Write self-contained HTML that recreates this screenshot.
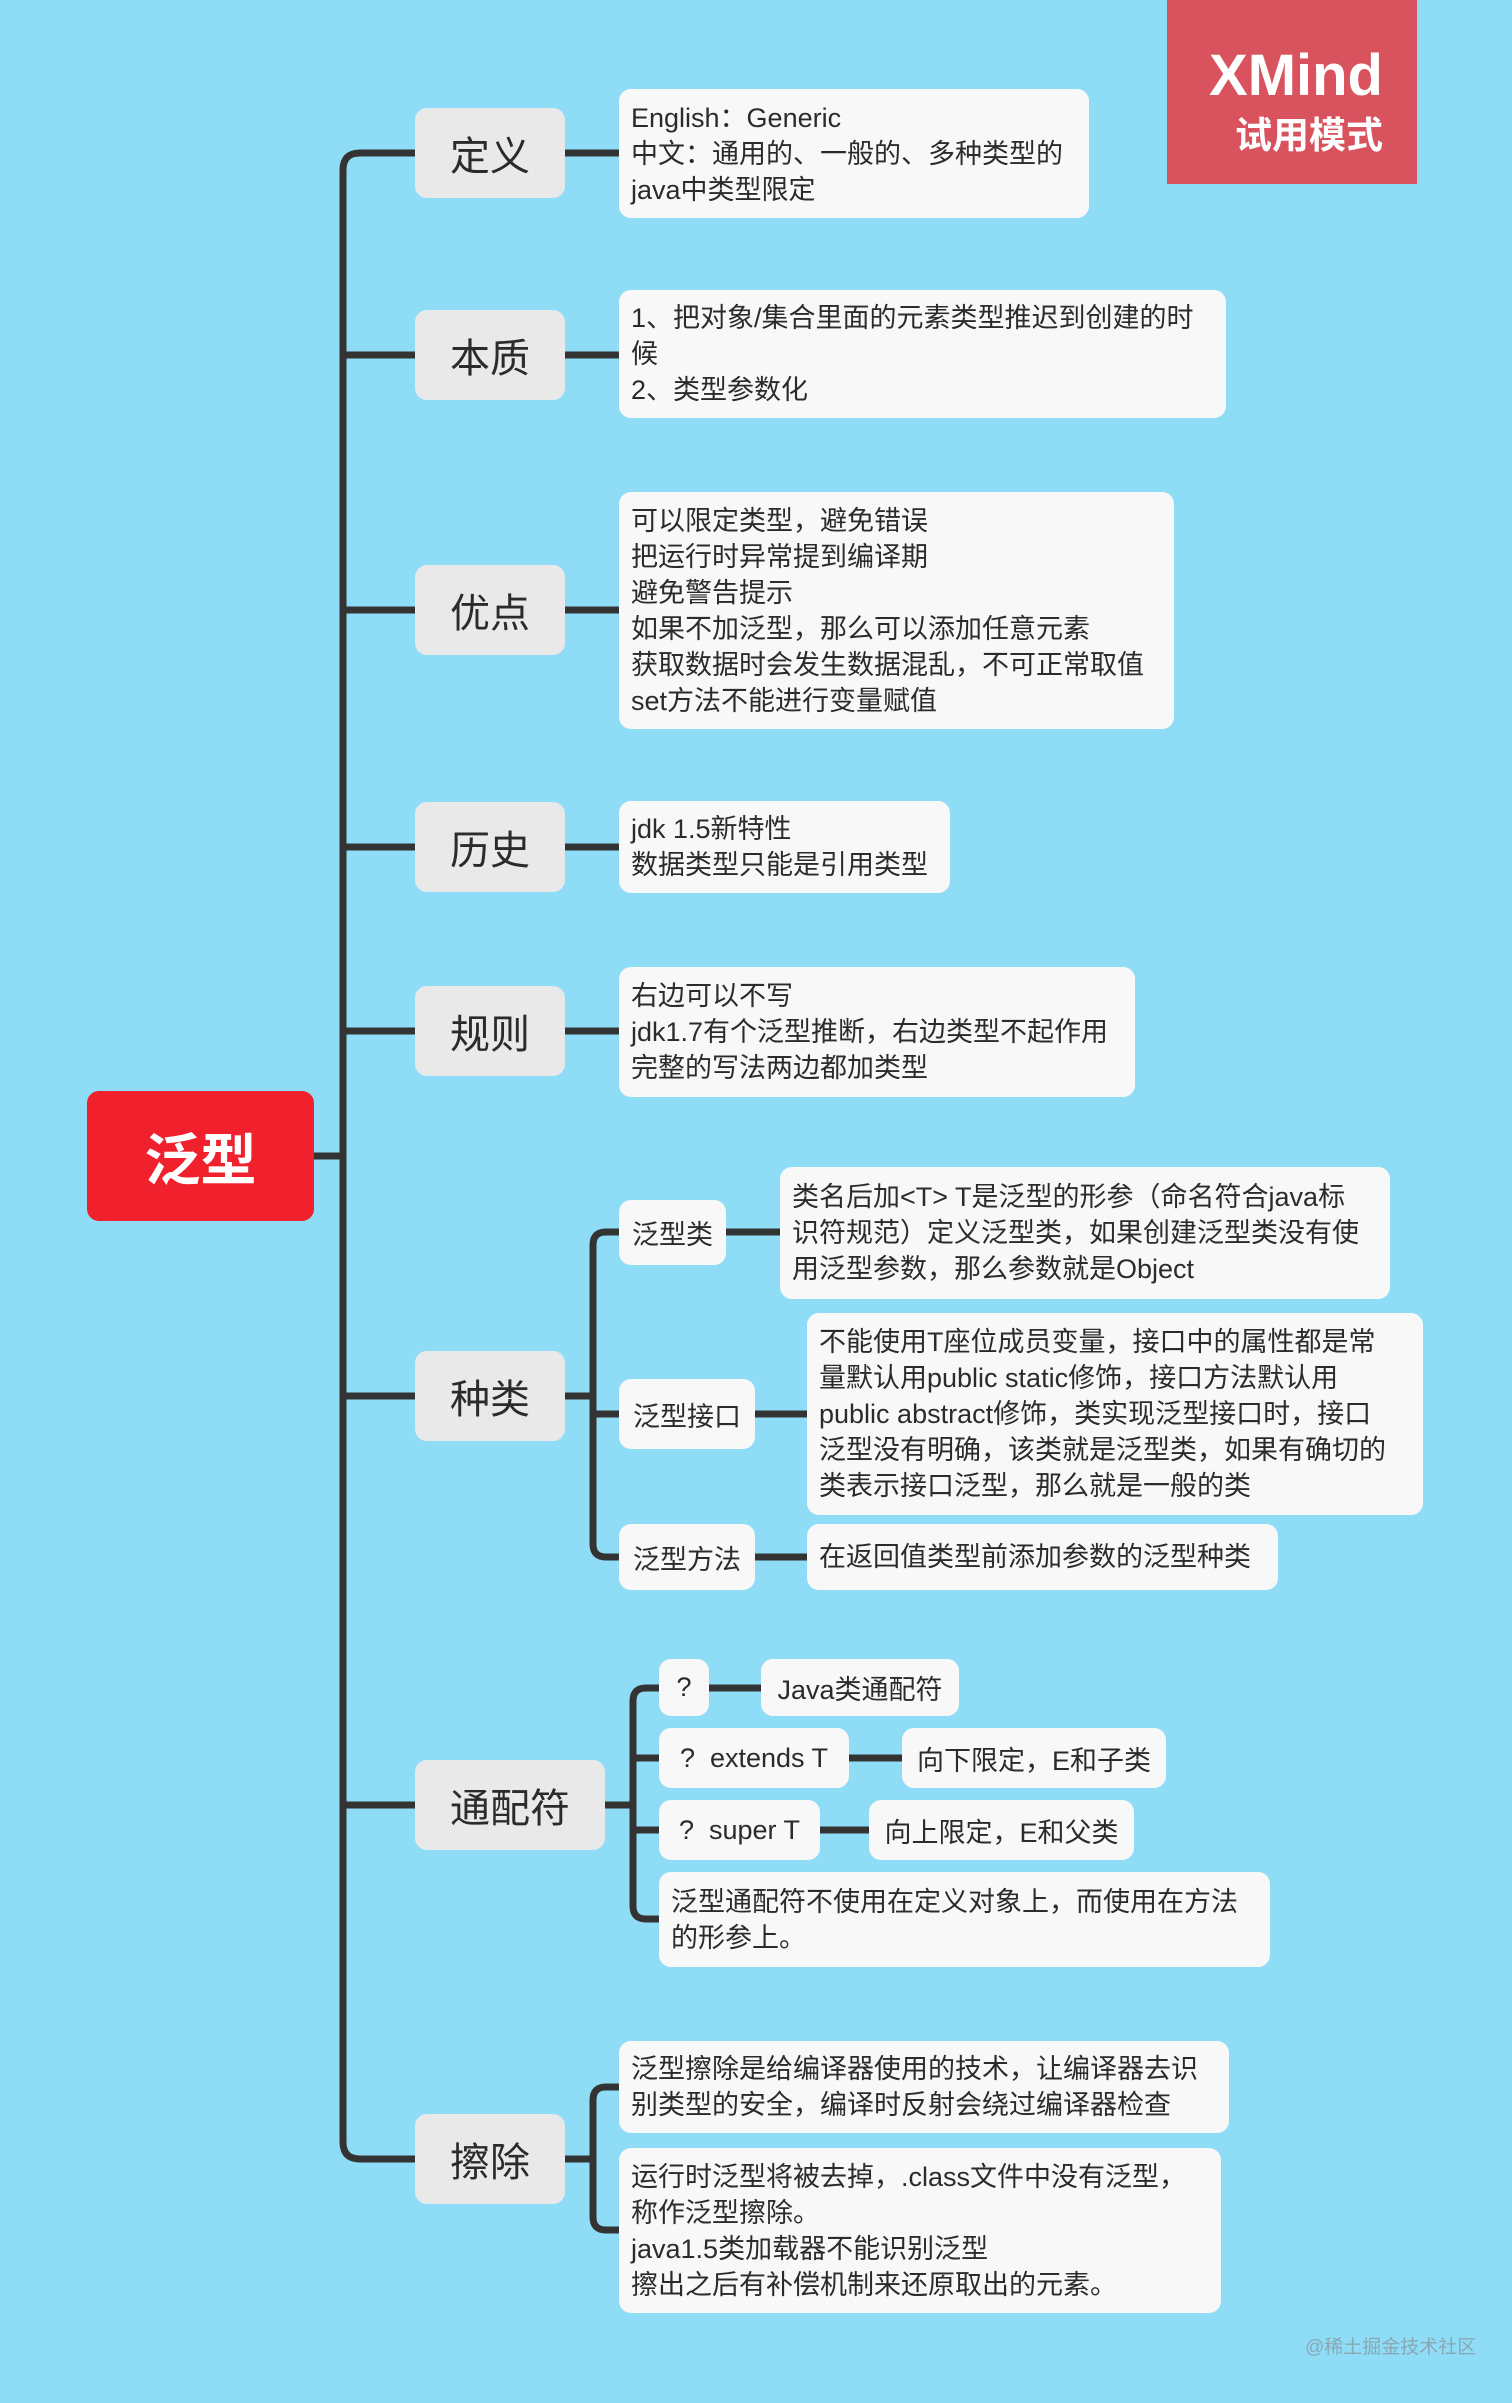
<!DOCTYPE html>
<html><head><meta charset="utf-8"><style>
*{margin:0;padding:0;box-sizing:border-box}
body{width:1512px;height:2403px;background:#8fdcf6;position:relative;overflow:hidden;font-family:"Liberation Sans","Noto Sans CJK SC",sans-serif;color:#2b2b2b}
.n{position:absolute;background:#e9e9e9;border-radius:12px;display:flex;align-items:center;justify-content:center;font-size:40px}
.b{position:absolute;background:#f8f8f8;border-radius:12px;font-size:27px;line-height:36px;padding:8px 12px;white-space:nowrap;display:flex;flex-direction:column;justify-content:center}
.s{position:absolute;background:#f8f8f8;border-radius:12px;font-size:27px;display:flex;align-items:center;justify-content:center;white-space:nowrap}
svg{position:absolute;left:0;top:0}
</style></head><body>
<svg width="1512" height="2403"><g stroke="#333" stroke-width="7" fill="none" stroke-linecap="round">
<path d="M314 1156 H343"/>
<path d="M415 153 H360 Q343 153 343 170 V2142 Q343 2159 360 2159 H415"/>
<path d="M343 355 H415 M343 610 H415 M343 847 H415 M343 1031 H415 M343 1396 H415 M343 1805 H415"/>
<path d="M565 153 H619 M565 355 H619 M565 610 H619 M565 847 H619 M565 1031 H619"/>
<path d="M565 1396 H593 M619 1232 H606 Q593 1232 593 1245 V1544 Q593 1557 606 1557 H619 M593 1414 H619"/>
<path d="M726 1232 H780 M755 1414 H807 M755 1557 H807"/>
<path d="M605 1805 H633 M659 1688 H646 Q633 1688 633 1701 V1906 Q633 1919 646 1919 H659 M633 1758 H659 M633 1830 H659"/>
<path d="M709 1688 H761 M849 1758 H902 M820 1830 H869"/>
<path d="M565 2159 H593 M619 2087 H606 Q593 2087 593 2100 V2217 Q593 2230 606 2230 H619"/>
</g></svg>
<div style="position:absolute;left:1167px;top:0;width:250px;height:184px;background:#d9535f;color:#fff;font-weight:bold;text-align:right;padding-right:34px">
<div style="font-size:58px;line-height:60px;margin-top:46px">XMind</div>
<div style="font-size:37px;line-height:44px;margin-top:8px">试用模式</div></div>
<div class="n" style="left:87px;top:1091px;width:227px;height:130px;background:#f0202c;color:#fff;font-weight:bold;font-size:56px">泛型</div>
<div class="n" style="left:415px;top:108px;width:150px;height:90px">定义</div>
<div class="n" style="left:415px;top:310px;width:150px;height:90px">本质</div>
<div class="n" style="left:415px;top:565px;width:150px;height:90px">优点</div>
<div class="n" style="left:415px;top:802px;width:150px;height:90px">历史</div>
<div class="n" style="left:415px;top:986px;width:150px;height:90px">规则</div>
<div class="n" style="left:415px;top:1351px;width:150px;height:90px">种类</div>
<div class="n" style="left:415px;top:1760px;width:190px;height:90px">通配符</div>
<div class="n" style="left:415px;top:2114px;width:150px;height:90px">擦除</div>
<div class="b" style="left:619px;top:89px;width:470px;height:129px">English：Generic<br>中文：通用的、一般的、多种类型的<br>java中类型限定</div>
<div class="b" style="left:619px;top:290px;width:607px;height:128px">1、把对象/集合里面的元素类型推迟到创建的时<br>候<br>2、类型参数化</div>
<div class="b" style="left:619px;top:492px;width:555px;height:237px">可以限定类型，避免错误<br>把运行时异常提到编译期<br>避免警告提示<br>如果不加泛型，那么可以添加任意元素<br>获取数据时会发生数据混乱，不可正常取值<br>set方法不能进行变量赋值</div>
<div class="b" style="left:619px;top:801px;width:331px;height:92px">jdk 1.5新特性<br>数据类型只能是引用类型</div>
<div class="b" style="left:619px;top:967px;width:516px;height:130px">右边可以不写<br>jdk1.7有个泛型推断，右边类型不起作用<br>完整的写法两边都加类型</div>
<div class="s" style="left:619px;top:1200px;width:107px;height:65px">泛型类</div>
<div class="b" style="left:780px;top:1167px;width:610px;height:132px">类名后加&lt;T&gt; T是泛型的形参（命名符合java标<br>识符规范）定义泛型类，如果创建泛型类没有使<br>用泛型参数，那么参数就是Object</div>
<div class="s" style="left:619px;top:1379px;width:136px;height:70px">泛型接口</div>
<div class="b" style="left:807px;top:1313px;width:616px;height:202px">不能使用T座位成员变量，接口中的属性都是常<br>量默认用public static修饰，接口方法默认用<br>public abstract修饰，类实现泛型接口时，接口<br>泛型没有明确，该类就是泛型类，如果有确切的<br>类表示接口泛型，那么就是一般的类</div>
<div class="s" style="left:619px;top:1524px;width:136px;height:66px">泛型方法</div>
<div class="b" style="left:807px;top:1524px;width:471px;height:66px">在返回值类型前添加参数的泛型种类</div>
<div class="s" style="left:659px;top:1659px;width:50px;height:57px">?</div>
<div class="s" style="left:761px;top:1659px;width:198px;height:57px">Java类通配符</div>
<div class="s" style="left:659px;top:1728px;width:190px;height:60px">?&nbsp; extends T</div>
<div class="s" style="left:902px;top:1728px;width:264px;height:60px">向下限定，E和子类</div>
<div class="s" style="left:659px;top:1800px;width:161px;height:60px">?&nbsp; super T</div>
<div class="s" style="left:869px;top:1800px;width:265px;height:60px">向上限定，E和父类</div>
<div class="b" style="left:659px;top:1872px;width:611px;height:95px">泛型通配符不使用在定义对象上，而使用在方法<br>的形参上。</div>
<div class="b" style="left:619px;top:2041px;width:610px;height:92px">泛型擦除是给编译器使用的技术，让编译器去识<br>别类型的安全，编译时反射会绕过编译器检查</div>
<div class="b" style="left:619px;top:2148px;width:602px;height:165px">运行时泛型将被去掉，.class文件中没有泛型，<br>称作泛型擦除。<br>java1.5类加载器不能识别泛型<br>擦出之后有补偿机制来还原取出的元素。</div>
<div style="position:absolute;left:1305px;top:2332px;font-size:19px;color:#8aa8b4">@稀土掘金技术社区</div>
</body></html>
